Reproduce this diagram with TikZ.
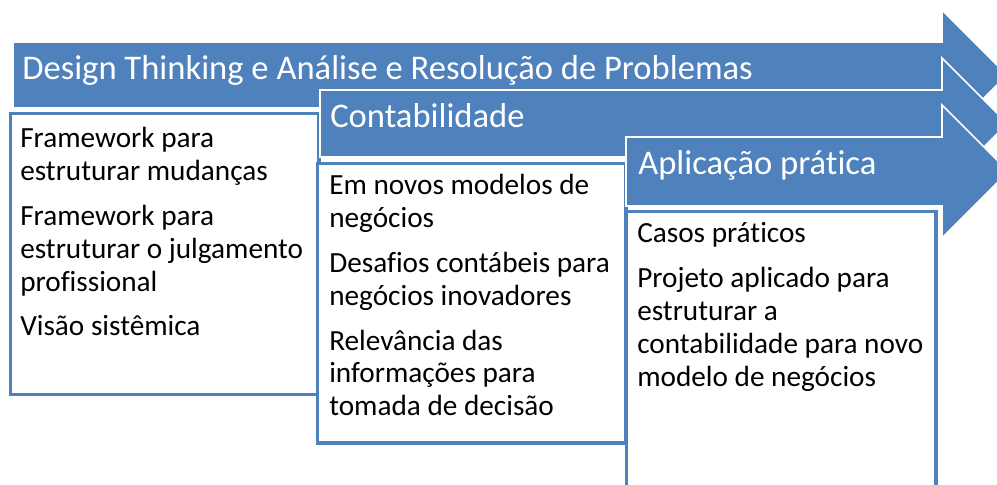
\documentclass[tikz,border=0pt]{standalone}
\usepackage{fontspec}
\setmainfont[Ligatures=NoCommon]{Carlito}
\definecolor{stageblue}{HTML}{4F81BD}

\begin{document}
\begin{tikzpicture}[
        x=0.25mm, y=-0.25mm,
        stage/.style={
            fill=stageblue,
            draw=white,
            line width=1.2pt
        },
        frame/.style={
            fill=white,
            draw=stageblue,
            line width=2.2pt
        },
        title/.style={
            anchor=base west,
            inner sep=0pt,
            text=white,
            font=\fontsize{24.6}{30}\selectfont
        },
        items/.style={
            anchor=base west,
            inner sep=0pt,
            text width=80mm,
            align=left,
            font=\fontsize{20.8}{23.3}\selectfont,
            execute at begin node={\spaceskip=0pt\xspaceskip=0pt}
        }
    ]

    % (0,0) at left upper corner, one unit is one pixel
    \useasboundingbox (0,0) rectangle (997,485);
    \clip (0,0) rectangle (997,485);

    % (stage, arrow left/top/bottom, box left/top/right/bottom)
    \def\stagedata{
        1/13/42/108/10.5/113.5/319/394.5,
        2/320/90/157/317.5/163.5/626/443,
        3/626/137/206/626.5/211.5/936/500
    }

    % arrows and boxes, one stage over the other
    \foreach \n/\l/\t/\b/\bl/\bt/\br/\bb in \stagedata {
        \draw[stage] (\l,\t) -- (942,\t) -- (942,\t-32)
            -- (942+0.5*\b-0.5*\t+32,0.5*\t+0.5*\b)
            -- (942,\b+32) -- (942,\b) -- (\l,\b) -- cycle;
        \draw[frame] (\bl,\bt) rectangle (\br,\bb);
    }

    % --- titles ---
    \node[title] (design) at (22,80) {Design Thinking e Análise e Resolução de Problemas};
    \node[title] (conta) at (330,128) {Contabilidade};
    \node[title] (pratica) at (638,175) {Aplicação prática};

    % --- items ---
    \node[items] (list1) at (20,148) {Framework para\\estruturar mudanças\\[3mm]
        Framework para\\estruturar o julgamento\\profissional\\[3mm]
        Visão sistêmica};
    \node[items] (list2) at (329,195) {Em novos modelos de\\negócios\\[3mm]
        Desafios contábeis para\\negócios inovadores\\[3mm]
        Relevância das\\informações para\\tomada de decisão};
    \node[items] (list3) at (637,243) {Casos práticos\\[3mm]
        Projeto aplicado para\\estruturar a\\contabilidade para novo\\modelo de negócios};

\end{tikzpicture}
\end{document}
